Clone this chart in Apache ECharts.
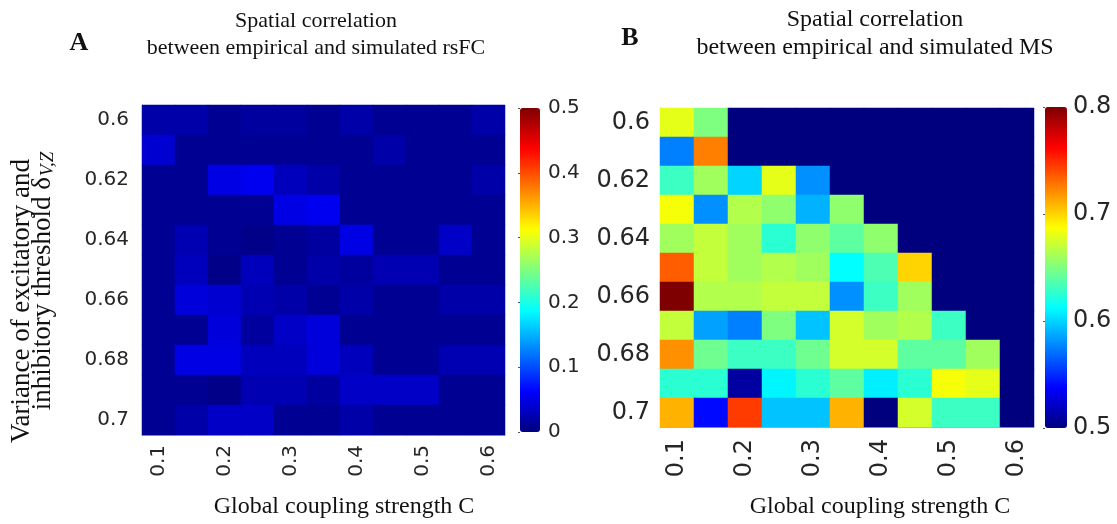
<!DOCTYPE html>
<html>
<head>
<meta charset="utf-8">
<script src="https://cdn.jsdelivr.net/npm/echarts@6/dist/echarts.min.js"></script>
<style>html,body{margin:0;padding:0;background:#fff;}#c{width:1117px;height:524px;}</style>
</head>
<body>
<div id="c"></div>
<script>
// ---- data ----
var xCategories = ['0.1','0.15','0.2','0.25','0.3','0.35','0.4','0.45','0.5','0.55','0.6'];
var yCategories = ['0.6','0.61','0.62','0.63','0.64','0.65','0.66','0.67','0.68','0.69','0.7'];
var rsfcTicks = [0, 0.1, 0.2, 0.3, 0.4, 0.5];
var msTicks = [0.5, 0.6, 0.7, 0.8];
// rows: y = 0.60 ... 0.70 ; columns: x = 0.1 ... 0.6
var rsfcValues = [
  [0.020,0.020,0.010,0.015,0.015,0.010,0.020,0.010,0.010,0.010,0.020],
  [0.040,0.010,0.010,0.010,0.010,0.010,0.010,0.020,0.010,0.010,0.010],
  [0.010,0.010,0.050,0.055,0.030,0.020,0.010,0.010,0.010,0.010,0.020],
  [0.010,0.010,0.010,0.010,0.050,0.055,0.010,0.010,0.010,0.010,0.010],
  [0.010,0.025,0.010,0.005,0.010,0.015,0.050,0.010,0.010,0.035,0.010],
  [0.010,0.030,0.005,0.030,0.010,0.020,0.015,0.025,0.025,0.010,0.010],
  [0.010,0.045,0.040,0.025,0.020,0.010,0.020,0.010,0.010,0.020,0.020],
  [0.010,0.010,0.045,0.015,0.035,0.045,0.010,0.010,0.010,0.010,0.010],
  [0.010,0.050,0.050,0.030,0.030,0.045,0.030,0.010,0.010,0.025,0.025],
  [0.010,0.010,0.005,0.025,0.025,0.015,0.035,0.035,0.035,0.010,0.010],
  [0.010,0.020,0.035,0.035,0.010,0.010,0.020,0.010,0.010,0.010,0.010]
];
var msValues = [
  [0.680,0.650,0.5,0.5,0.5,0.5,0.5,0.5,0.5,0.5,0.5],
  [0.575,0.725,0.5,0.5,0.5,0.5,0.5,0.5,0.5,0.5,0.5],
  [0.630,0.660,0.600,0.680,0.580,0.5,0.5,0.5,0.5,0.5,0.5],
  [0.685,0.580,0.665,0.655,0.590,0.655,0.5,0.5,0.5,0.5,0.5],
  [0.660,0.670,0.660,0.625,0.655,0.640,0.655,0.5,0.5,0.5,0.5],
  [0.735,0.670,0.660,0.665,0.660,0.6125,0.635,0.700,0.5,0.5,0.5],
  [0.800,0.665,0.665,0.670,0.670,0.580,0.630,0.660,0.5,0.5,0.5],
  [0.670,0.585,0.575,0.650,0.595,0.675,0.660,0.665,0.630,0.5,0.5],
  [0.720,0.645,0.630,0.630,0.645,0.675,0.675,0.640,0.640,0.660,0.5],
  [0.625,0.625,0.510,0.610,0.625,0.640,0.608,0.625,0.685,0.680,0.5],
  [0.710,0.540,0.745,0.595,0.595,0.710,0.500,0.675,0.630,0.630,0.5]
];
// ---- build ----
var jet = ['#00007f','#0000ff','#007fff','#00ffff','#7fff7f','#ffff00','#ff7f00','#ff0000','#7f0000'];
function toCells(rows){var d=[];rows.forEach(function(r,yi){r.forEach(function(v,xi){d.push([xi,yi,v]);});});return d;}
var tickFont = 'DejaVu Sans';
var serif = '"Liberation Serif","Times New Roman",serif';
function catX(gi, fs, margin){
  return {type:'category', gridIndex:gi, data:xCategories,
    axisLine:{show:true,lineStyle:{color:'#b0b0b0',width:1}},
    axisTick:{show:true,inside:true,length:3,interval:1,alignWithLabel:true,lineStyle:{color:'#333'}},
    axisLabel:{interval:1,rotate:90,fontFamily:tickFont,fontSize:fs,color:'#262626',margin:margin},
    splitLine:{show:false}};
}
function catY(gi, fs, margin){
  return {type:'category', gridIndex:gi, data:yCategories, inverse:true,
    axisLine:{show:true,lineStyle:{color:'#b0b0b0',width:1}},
    axisTick:{show:true,inside:true,length:3,interval:1,alignWithLabel:true,lineStyle:{color:'#333'}},
    axisLabel:{interval:1,fontFamily:tickFont,fontSize:fs,color:'#262626',margin:margin},
    splitLine:{show:false}};
}
function cbY(gi, ticks, fs, margin){
  return {type:'value', gridIndex:gi, position:'right', min:ticks[0], max:ticks[ticks.length-1], interval:0.1,
    axisLine:{show:false}, splitLine:{show:false},
    axisTick:{show:true,inside:true,length:2,lineStyle:{color:'#555'}},
    axisLabel:{fontFamily:tickFont,fontSize:fs,color:'#262626',margin:margin,
      formatter:function(v){return String(Math.round(v*10)/10);}}};
}
function txt(x,y,text,size,extra){
  var st = {text:text,fontFamily:serif,fontSize:size,fill:'#111',align:'center',verticalAlign:'middle',
    textAlign:'center',textVerticalAlign:'middle'};
  for (var k in (extra||{})) st[k]=extra[k];
  return {type:'text',x:x,y:y,style:st};
}
var yName1 = txt(22,301,'Variance of excitatory and',27);
yName1.rotation = Math.PI/2;
var yName2 = txt(43,281,'inhibitory threshold δ{sub|V,Z}',27,
  {rich:{sub:{fontFamily:serif,fontSize:19,fontStyle:'italic',fill:'#111',padding:[10,0,0,1]}}});
yName2.rotation = Math.PI/2;
var option = {
  backgroundColor:'#ffffff',
  animation:false,
  grid:[
    {left:142, top:105, width:363, height:330},
    {left:660, top:108, width:374, height:319},
    {left:520, top:108, width:20, height:324},
    {left:1045, top:107, width:22, height:321}
  ],
  xAxis:[
    catX(0,20,10), catX(1,24,12),
    {type:'value',gridIndex:2,show:false,min:0,max:1},
    {type:'value',gridIndex:3,show:false,min:0,max:1}
  ],
  yAxis:[
    catY(0,20,13), catY(1,24,10),
    cbY(2,rsfcTicks,20,8), cbY(3,msTicks,24,6)
  ],
  visualMap:[
    {type:'continuous',min:0,max:0.5,seriesIndex:0,left:520,top:108,itemWidth:20,itemHeight:324,
     calculable:false,padding:0,inRange:{color:jet},hoverLink:false},
    {type:'continuous',min:0.5,max:0.8,seriesIndex:1,left:1045,top:107,itemWidth:22,itemHeight:321,
     calculable:false,padding:0,inRange:{color:jet},hoverLink:false}
  ],
  series:[
    {type:'heatmap',xAxisIndex:0,yAxisIndex:0,data:toCells(rsfcValues),emphasis:{disabled:true}},
    {type:'heatmap',xAxisIndex:1,yAxisIndex:1,data:toCells(msValues),emphasis:{disabled:true}}
  ],
  graphic:[
    txt(316,35,'Spatial correlation\nbetween empirical and simulated rsFC',22,{lineHeight:27}),
    txt(875,34,'Spatial correlation\nbetween empirical and simulated MS',24,{lineHeight:28}),
    txt(79,43,'A',26,{fontWeight:'bold'}),
    txt(630,38,'B',26,{fontWeight:'bold'}),
    txt(344,507,'Global coupling strength C',24),
    txt(880,507,'Global coupling strength C',24),
    yName1, yName2
  ]
};
var chart = echarts.init(document.getElementById('c'), null, {renderer:'canvas'});
chart.setOption(option);
</script>
</body>
</html>
